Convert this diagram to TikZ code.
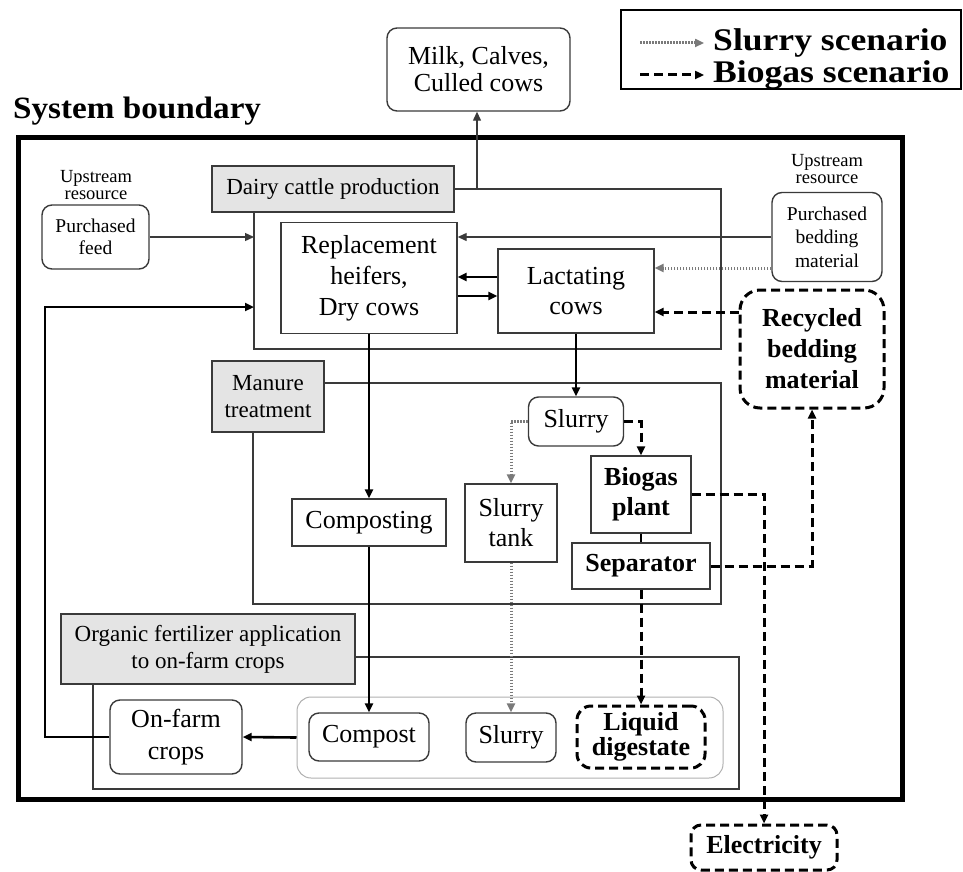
\documentclass[tikz,border=0pt]{standalone}
\usepackage{fontspec}
\usepackage{graphicx}
\setmainfont{Liberation Serif}
\usetikzlibrary{arrows.meta,calc}
\newcommand{\fsz}[2]{\fontsize{#1}{#2}\selectfont}
\definecolor{boxc}{HTML}{3A3A3A}
\definecolor{lblgray}{HTML}{E4E4E4}
\definecolor{dotc}{HTML}{7A7A7A}
\definecolor{innerc}{HTML}{B0B0B0}
\begin{document}
\begin{tikzpicture}[x=1pt,y=-1pt,
  box/.style={draw=boxc,line width=1.4pt,inner sep=0pt,align=center,font=\fsz{26}{31}},
  rbox/.style={box,rounded corners=10pt},
  grplbl/.style={draw=boxc,fill=lblgray,line width=1.3pt,inner sep=0pt,align=center,font=\fsz{23}{27}},
  grpline/.style={draw=boxc,line width=1.2pt},
  dbox/.style={draw=black,line width=3pt,dash pattern=on 9pt off 5pt,rounded corners=14pt,inner sep=0pt,align=center,font=\bfseries\fsz{26}{31}},
  tip/.style={-{Triangle[length=9pt,width=8pt]}},
  thinarr/.style={tip,draw=boxc,line width=1.3pt},
  thickarr/.style={tip,draw=black,line width=2.6pt},
  dasharr/.style={tip,draw=black,line width=3pt,dash pattern=on 9pt off 5pt},
  dotarr/.style={tip,draw=dotc,line width=3pt,dash pattern=on 1.5pt off 1.5pt},
  uptxt/.style={inner sep=0pt,align=center,font=\fsz{18.5}{17.5}},
  legtxt/.style={anchor=west,inner sep=0pt,font=\bfseries\fsz{31.5}{34}},
]
\useasboundingbox (0,0) rectangle (963,872);

% legend
\draw[black,line width=2pt] (621,10) rectangle (961,89);
\node[legtxt] (lg1) at (713,43) {\scalebox{1.13}[1]{Slurry scenario}};
\node[legtxt] (lg2) at (713,75) {\scalebox{1.13}[1]{Biogas scenario}};
\coordinate (la1) at (640,43);
\coordinate (la2) at (640,75);
\draw[dotarr,shorten >=9pt] (la1) -- (lg1.west);
\draw[dasharr,shorten >=9pt] (la2) -- (lg2.west);

% system boundary
\node[anchor=base west,inner sep=0pt,font=\bfseries\fsz{31}{35}] (sysb) at (13,118) {\scalebox{1.07}[1]{System boundary}};
\draw[black,line width=5pt] (18,137) rectangle (902,799);

% output
\node[rbox,minimum width=183pt,minimum height=83pt,font=\fsz{26}{27}] (milk) at (478.5,69.5) {Milk, Calves,\\Culled cows};

% group: dairy cattle production
\node[grplbl,minimum width=242pt,minimum height=46pt] (dairyL) at (333,189) {Dairy cattle production};
\coordinate (dTR) at (721,189);
\coordinate (dBR) at (721,349);
\coordinate (dBL) at (254,349);
\draw[grpline] (dairyL.east) -- (dTR) -- (dBR) -- (dBL) -- (dBL |- dairyL.south);

% group: manure treatment
\node[grplbl,minimum width=112pt,minimum height=71pt] (manL) at (268,396.5) {Manure\\treatment};
\coordinate (mTR) at (721,383);
\coordinate (mBR) at (721,604);
\coordinate (mBL) at (253,604);
\draw[grpline] (manL.east |- mTR) -- (mTR) -- (mBR) -- (mBL) -- (mBL |- manL.south);

% group: organic fertilizer
\node[grplbl,minimum width=294pt,minimum height=70pt] (orgL) at (208,649) {Organic fertilizer application\\to on-farm crops};
\coordinate (oTR) at (739,657);
\coordinate (oBR) at (739,789);
\coordinate (oBL) at (93,789);
\draw[grpline] (orgL.east |- oTR) -- (oTR) -- (oBR) -- (oBL) -- (oBL |- orgL.south);

% upstream resources
\node[uptxt] (upL) at (96,185) {Upstream\\resource};
\node[rbox,minimum width=107pt,minimum height=64pt,font=\fsz{19.5}{22}] (feed) at (95.5,237) {Purchased\\feed};
\node[uptxt] (upR) at (827,169) {Upstream\\resource};
\node[rbox,minimum width=110pt,minimum height=89pt,font=\fsz{19.5}{23.5}] (bed) at (827,237) {Purchased\\bedding\\material};

% animals
\node[box,minimum width=176pt,minimum height=111pt] (repl) at (369,278) {Replacement\\heifers,\\Dry cows};
\node[box,minimum width=156pt,minimum height=84pt,font=\fsz{26}{30}] (lact) at (576,291) {Lactating\\cows};
\node[dbox,rounded corners=20pt,minimum width=144pt,minimum height=118pt] (recyc) at (812,349) {Recycled\\bedding\\material};

% manure treatment
\node[rbox,minimum width=95pt,minimum height=49pt] (slur1) at (576,421.5) {Slurry};
\node[box,minimum width=100pt,minimum height=77pt,font=\bfseries\fsz{26}{30}] (biog) at (641,494.5) {Biogas\\plant};
\node[box,minimum width=138pt,minimum height=46pt,font=\bfseries\fsz{26}{30}] (sep) at (641,566) {Separator};
\node[box,minimum width=92pt,minimum height=78pt,font=\fsz{26}{30}] (tank) at (511,523) {Slurry\\tank};
\node[box,minimum width=154pt,minimum height=47pt] (compo) at (369,522.5) {Composting};

% fertilizer
\node[draw=innerc,line width=1pt,rounded corners=14pt,minimum width=426pt,minimum height=81pt,inner sep=0pt] (inner) at (510,737.5) {};
\node[rbox,minimum width=132pt,minimum height=74pt,font=\fsz{26}{32}] (onfarm) at (176,737) {On-farm\\crops};
\node[rbox,minimum width=120pt,minimum height=48pt] (compost) at (369,737) {Compost};
\node[rbox,minimum width=90pt,minimum height=49pt] (slur2) at (511,737.5) {Slurry};
\node[dbox,minimum width=128pt,minimum height=62pt,font=\bfseries\fsz{26}{22}] (liq) at (641,737) {Liquid\\digestate};
\node[dbox,rounded corners=10pt,minimum width=146pt,minimum height=45pt] (elec) at (764,847.5) {Electricity};

% connectors
\coordinate (mk) at (477,189);
\draw[thinarr] (mk) -- (mk |- milk.south);
\draw[thinarr] (feed.east) -- (feed.east -| dBL);
\draw[thinarr] (bed.west) -- (bed.west -| repl.east);
\path ([yshift=14pt]lact.west) coordinate (l1) ([yshift=-5pt]lact.west) coordinate (l2);
\draw[thickarr] (l1) -- (l1 -| repl.east);
\draw[thickarr] (l2 -| repl.east) -- (l2);
\path ([yshift=-31pt]bed.west) coordinate (b1);
\draw[dotarr] (b1) -- (b1 -| lact.east);
\path ([yshift=37pt]recyc.west) coordinate (r1);
\draw[dasharr] (r1) -- (r1 -| lact.east);
\draw[thickarr] (repl.south) -- (compo.north);
\draw[thickarr] (lact.south) -- (slur1.north);
\draw[dotarr] (slur1.west) -| (tank.north);
\draw[dasharr] (slur1.east) -| (biog.north);
\draw[black,line width=2.6pt] (biog.south) -- (sep.north);
\draw[dasharr] (biog.east) -| (elec.north);
\draw[dasharr] (sep.east) -| (recyc.south);
\draw[dasharr] (sep.south) -- (liq.north);
\draw[dotarr] (tank.south) -- (slur2.north);
\draw[thickarr] (compo.south) -- (compost.north);
\draw[thickarr] (inner.west) -- (onfarm.east);
\coordinate (fb) at (45,307);
\draw[thickarr] (onfarm.west) -| (fb) -- (fb -| dBL);
\end{tikzpicture}
\end{document}
